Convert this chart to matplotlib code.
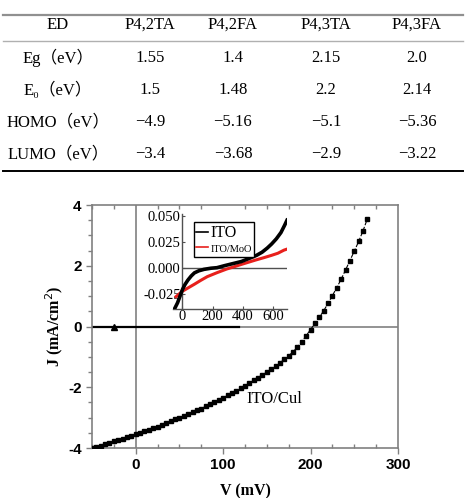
import matplotlib.pyplot as plt
from matplotlib.lines import Line2D

# table data
col_labels = ['ED', 'P4,2TA', 'P4,2FA', 'P4,3TA', 'P4,3FA']
row_labels = ['Eg（eV）', 'E₀（eV）', 'HOMO（eV）', 'LUMO（eV）']
cell_values = [['1.55', '1.4', '2.15', '2.0'],
               ['1.5', '1.48', '2.2', '2.14'],
               ['−4.9', '−5.16', '−5.1', '−5.36'],
               ['−3.4', '−3.68', '−2.9', '−3.22']]

# main J-V curve (ITO/CuI)
v_cui = [-50, -45, -40, -35, -30, -25, -20, -15, -10, -5,
         0, 5, 10, 15, 20, 25, 30, 35, 40, 45,
         50, 55, 60, 65, 70, 75, 80, 85, 90, 95,
         100, 105, 110, 115, 120, 125, 130, 135, 140, 145,
         150, 155, 160, 165, 170, 175, 180, 185, 190, 195,
         200, 205, 210, 215, 220, 225, 230, 235, 240, 245,
         250, 255, 260, 265]
j_cui = [-4.00, -3.96, -3.92, -3.87, -3.83, -3.78, -3.74, -3.69, -3.65, -3.60,
         -3.55, -3.50, -3.45, -3.40, -3.35, -3.30, -3.24, -3.18, -3.12, -3.06,
         -3.00, -2.94, -2.88, -2.82, -2.76, -2.70, -2.63, -2.56, -2.49, -2.42,
         -2.35, -2.27, -2.19, -2.11, -2.03, -1.95, -1.86, -1.77, -1.68, -1.59,
         -1.50, -1.40, -1.30, -1.19, -1.08, -0.96, -0.83, -0.68, -0.50, -0.30,
         -0.10, 0.10, 0.30, 0.52, 0.76, 1.02, 1.28, 1.56, 1.86, 2.17,
         2.48, 2.80, 3.15, 3.55]

# short black reference line with triangle
v_ref = [-50, 118]
j_ref = [0, 0]
v_tri = [-25]
j_tri = [0]

# inset curves
v_ito = [-47, -30, -15, 0, 6, 20, 38, 60, 81, 110, 144, 190, 229, 280, 335,
         390, 441, 490, 526, 560, 589, 620, 650, 674, 690]
j_ito = [-0.039, -0.034, -0.028, -0.022, -0.020, -0.016, -0.012, -0.008, -0.005,
         -0.003, -0.0016, -0.0005, 0.0, 0.002, 0.004, 0.006, 0.009, 0.012, 0.015,
         0.019, 0.023, 0.028, 0.034, 0.041, 0.046]
v_moo = [-40, 0, 40, 81, 120, 165, 230, 293, 340, 377, 430, 483, 540, 589, 630, 670, 690]
j_moo = [-0.028, -0.023, -0.0195, -0.016, -0.0125, -0.0087, -0.0048, -0.0013, 0.0008,
         0.0026, 0.005, 0.0074, 0.0098, 0.012, 0.014, 0.017, 0.018]

plt.rcParams['axes.unicode_minus'] = False
serif = ['Liberation Serif', 'DejaVu Serif', 'Noto Sans CJK SC']
W, H = 468, 498
fig = plt.figure(figsize=(W / 100, H / 100), dpi=100)

# ---- table ----
col_x = [58, 150, 233, 326, 417]
row_y = [25, 58, 90, 122, 154]
fig.add_artist(Line2D([3 / W, 463 / W], [1 - 15 / H] * 2, color='#909090', lw=1.6))
fig.add_artist(Line2D([3 / W, 463 / W], [1 - 41 / H] * 2, color='#b0b0b0', lw=1.0))
fig.add_artist(Line2D([3 / W, 463 / W], [1 - 171 / H] * 2, color='black', lw=1.4))
for x, lab in zip(col_x, col_labels):
    fig.text(x / W, 1 - row_y[0] / H, lab, ha='center', va='center',
             fontsize=12, family=serif)
for i, (lab, vals) in enumerate(zip(row_labels, cell_values)):
    y = 1 - row_y[i + 1] / H
    fig.text(col_x[0] / W, y, lab, ha='center', va='center', fontsize=12, family=serif)
    for x, val in zip(col_x[1:], vals):
        fig.text(x / W, y, val, ha='center', va='center', fontsize=12, family=serif)

# ---- main plot ----
ax = fig.add_axes([92 / W, 1 - 448 / H, 306 / W, 243 / H])
gray = '#808080'
ax.axhline(0, color=gray, lw=1.2, zorder=1)
ax.axvline(0, color=gray, lw=1.2, zorder=1)
ax.plot(v_ref, j_ref, color='black', lw=1.6, zorder=2)
ax.plot(v_tri, j_tri, '^', color='black', ms=4, zorder=3)
ax.plot(v_cui, j_cui, 's--', color='black', ms=3.3, lw=0.8, zorder=3)
ax.text(158, -2.4, 'ITO/Cul', fontsize=12, family=serif, ha='center', va='center')

ax.set_xlim(-50, 300)
ax.set_ylim(-4, 4)
ax.set_xticks([0, 100, 200, 300])
ax.set_xticks(range(-50, 301, 25), minor=True)
ax.set_yticks([-4, -2, 0, 2, 4])
ax.set_yticks([-4 + 0.5 * k for k in range(17)], minor=True)
ax.tick_params(which='major', direction='out', length=4, width=1, color=gray,
               labelsize=11, top=False, right=False)
ax.tick_params(axis='x', which='minor', direction='in', length=3, width=1, color=gray,
               top=True)
ax.tick_params(axis='y', which='minor', direction='out', length=3, width=1, color=gray)
for lab in ax.get_xticklabels() + ax.get_yticklabels():
    lab.set_family('Liberation Sans')
    lab.set_fontweight('bold')
for s in ax.spines.values():
    s.set_color(gray)
    s.set_linewidth(1.2)
ax.set_xlabel('V (mV)', fontsize=11.5, family=serif, fontweight='bold', labelpad=8)
ax.set_ylabel('J (mA/cm$^2$)', fontsize=11.5, family=serif, fontweight='bold', labelpad=2)

# ---- inset ----
ins = fig.add_axes([173 / W, 1 - 309 / H, 114 / W, 95 / H])
ins.set_facecolor('white')
ins.hlines(0, 0, 690, color='#505050', lw=1.0, zorder=1)
ins.plot(v_ito, j_ito, color='black', lw=2.6, label='ITO', zorder=3)
ins.plot(v_moo, j_moo, color='#e8201c', lw=2.2, label='ITO/MoO', zorder=2)
ins.set_xlim(-60, 690)
ins.set_ylim(-0.04, 0.052)
ins.spines['left'].set_position(('data', 0))
ins.spines['top'].set_visible(False)
ins.spines['right'].set_visible(False)
for s in ['left', 'bottom']:
    ins.spines[s].set_color('#505050')
    ins.spines[s].set_linewidth(1.0)
ins.set_xticks([0, 200, 400, 600])
ins.set_yticks([-0.025, 0.0, 0.025, 0.05])
ins.set_yticklabels(['-0.025', '0.000', '0.025', '0.050'])
ins.tick_params(direction='in', length=2, labelsize=10.5, pad=1, color='#505050')
for lab in ins.get_xticklabels() + ins.get_yticklabels():
    lab.set_family(serif)
leg = ins.legend(loc='upper left', bbox_to_anchor=(0.12, 0.99), handlelength=0.8,
                 handletextpad=0.2, borderpad=0.2, labelspacing=0.1, fancybox=False,
                 edgecolor='black', framealpha=1, prop={'family': serif})
leg.get_frame().set_linewidth(1.0)
leg.get_texts()[0].set_fontsize(11.5)
leg.get_texts()[1].set_fontsize(7.5)
for h in leg.get_lines():
    h.set_linewidth(1.2)

fig.savefig('out.png', dpi=100)
